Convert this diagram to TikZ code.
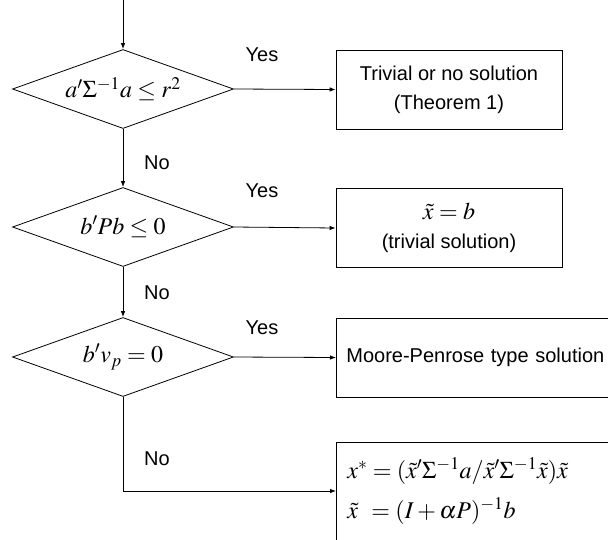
\documentclass[tikz,border=0pt]{standalone}
\usepackage{amsmath}
\usepackage{mathptmx}
\usepackage[no-math]{fontspec}
\setmainfont{Liberation Sans}
\usetikzlibrary{arrows.meta,shapes.geometric}

\begin{document}
\begin{tikzpicture}[x=1pt, y=-1pt, line width=0.8pt,
  test/.style={diamond, draw, shape aspect=2.8, minimum width=221pt,
               minimum height=79pt, inner sep=0pt,
               font=\fontsize{24}{28}\selectfont},
  result/.style={rectangle, draw, minimum width=226pt, minimum height=79pt,
                 align=center, font=\fontsize{20}{29}\selectfont},
  branch/.style={font=\fontsize{20}{24}\selectfont, inner sep=0pt},
  flow/.style={-{Latex[length=6pt, width=4.5pt]}}]

  \path[use as bounding box, clip] (0,0) rectangle (608,539);

  %% Decision diamonds
  \coordinate (start) at (123,0);
  \node[test] (T1) at (123,89)  {$a'\Sigma^{-1}a \le r^2$};
  \node[test] (T2) at (123,227) {$b'Pb \le 0$};
  \node[test] (T3) at (123,357) {$b'v_p = 0$};

  %% Outcome boxes
  \node[result] (R1) at (449,89.5) {Trivial or no solution\\(Theorem 1)};
  \node[result] (R2) at (449,228)
    {{\fontsize{24}{28}\selectfont$\tilde{x} = b$}\\(trivial solution)};
  \node[result, anchor=west, minimum width=290pt, text width=270pt,
        inner xsep=10pt, align=left] (R3) at (336,357.5)
    {Moore-Penrose type solution};
  \node[result, anchor=west, minimum width=290pt, minimum height=98pt,
        text width=270pt, inner xsep=11pt, align=left,
        font=\fontsize{24}{40}\selectfont] (R4) at (336,491)
    {$x^* = (\tilde{x}'\Sigma^{-1}a/\tilde{x}'\Sigma^{-1}\tilde{x})\tilde{x}$\\
     $\tilde{x}\;\, = (I+\alpha P)^{-1}b$};

  %% Connectors
  \draw[flow] (start) -- (T1.north);
  \draw[flow] (T1.south) -- (T2.north);
  \draw[flow] (T2.south) -- (T3.north);
  \draw[flow] (T1.east) -- (R1.west);
  \draw[flow] (T2.east) -- (R2.west);
  \draw[flow] (T3.east) -- (R3.west);
  \draw[flow] (T3.south) |- (R4.west);

  %% Branch labels
  \node[branch] (Y1) at (262,55)  {Yes};
  \node[branch] (Y2) at (262,191) {Yes};
  \node[branch] (Y3) at (262,328) {Yes};
  \node[branch] (N1) at (157,163) {No};
  \node[branch] (N2) at (157,293) {No};
  \node[branch] (N3) at (157,459) {No};

\end{tikzpicture}
\end{document}
